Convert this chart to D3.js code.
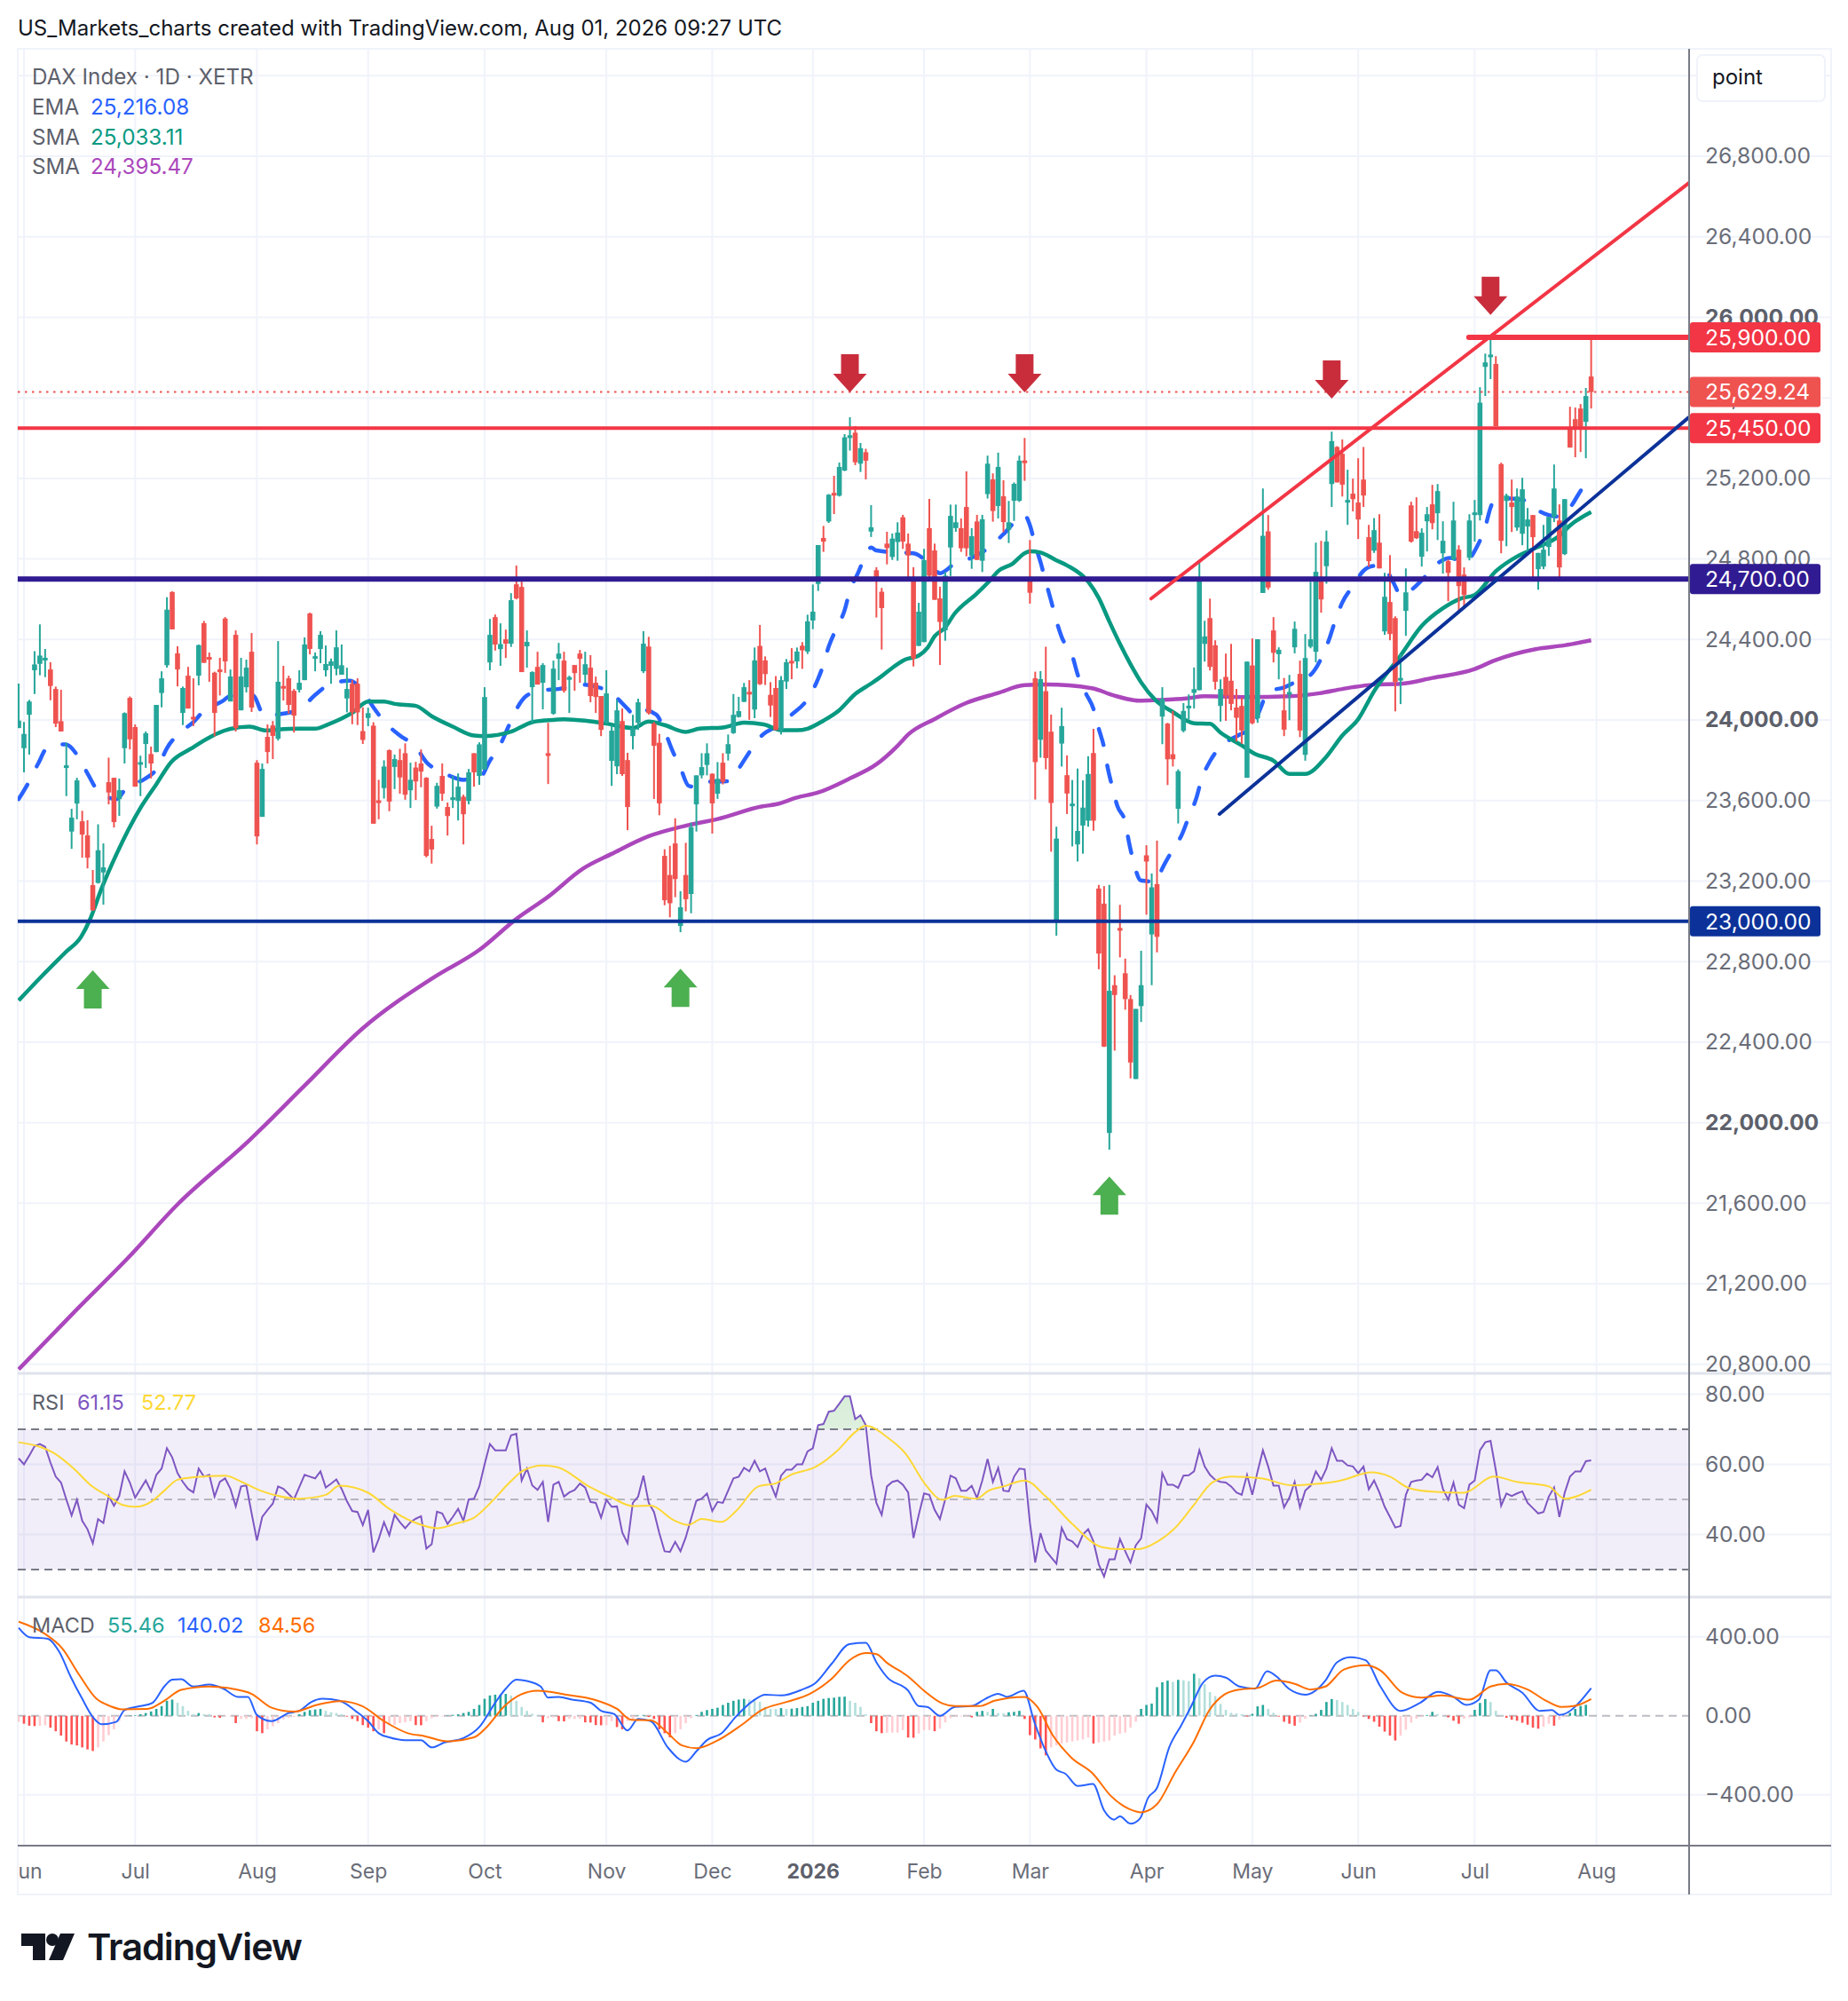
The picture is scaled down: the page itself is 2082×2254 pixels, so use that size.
<!DOCTYPE html>
<html>
<head>
<meta charset="utf-8">
<script src="https://cdn.jsdelivr.net/npm/d3@7"></script>
<style>
  html, body { margin: 0; background: #fff; }
  text { font-family: Inter, "Noto Sans", sans-serif; }
</style>
</head>
<body>
<div id="chart"></div>
<script>
// bar number of the first candle, one trading day before the Jun tick
const firstBar = -1;

// [open, high, low, close]
const ohlc2025 = [
[23960,24181,23960,23997],[23860,23990,23740,23931],[24026,24100,23828,24092],[24247,24342,24129,24276],[24279,24475,24222,24320],
[24303,24353,24213,24309],[24251,24287,24098,24169],[24154,24166,23965,23982],[23994,24150,23943,23943],[23769,23887,23622,23775],
[23446,23559,23360,23515],[23585,23713,23507,23700],[23497,23549,23316,23431],[23427,23502,23263,23316],[23180,23255,23052,23055],
[23191,23482,23188,23353],[23243,23387,23083,23268],[23691,23813,23581,23640],[23713,23713,23466,23493],[23607,23709,23524,23651],
[23860,24038,23784,24034],[24110,24117,23854,23904],[23965,23978,23669,23669],[23785,23823,23622,23791],[23881,23943,23762,23934],
[23831,23868,23710,23784],[23841,24075,23840,24075],[24134,24242,24063,24207],[24272,24610,24260,24548],[24636,24639,24450,24450],
[24331,24366,24167,24251],[24035,24166,23975,24159],[24220,24264,24057,24057],[24016,24207,23970,24010],[24220,24375,24172,24372],
[24481,24492,24284,24284],[24313,24335,24190,24307],[24235,24240,23919,24035],[24251,24309,24122,24245],[24504,24511,24234,24291],
[24092,24251,24092,24216],[24423,24445,23943,23960],[24048,24309,24048,24216],[24163,24300,24137,24260],[24339,24432,24040,24062],
[23788,23801,23382,23422],[23519,23784,23519,23757],[23916,23978,23784,23841],[23973,23995,23806,23921],[23907,24392,23898,24190],
[24169,24269,24097,24163],[24207,24220,24031,24075],[24145,24154,23938,24022],[24150,24247,24137,24185],[24198,24410,24198,24375],
[24529,24533,24326,24353],[24311,24335,24242,24317],[24353,24441,24282,24423],[24247,24370,24216,24278],[24269,24305,24180,24291],
[24254,24445,24222,24361],[24225,24375,24225,24272],[24107,24260,24038,24154],[24180,24198,23979,24038],[24180,24207,23975,24038],
[23945,24063,23881,23901],[24010,24061,23969,24034],[23972,23989,23485,23485],[23601,23703,23507,23595],[23662,23800,23610,23769],
[23850,23854,23547,23595],[23767,23828,23657,23806],[23801,23857,23634,23715],[23835,23884,23604,23629],[23651,23788,23563,23703],
[23764,23792,23603,23695],[23784,23854,23666,23744],[23713,23716,23318,23325],[23409,23475,23287,23357],[23570,23688,23560,23673],
[23722,23784,23598,23634],[23568,23590,23426,23523],[23610,23722,23563,23616],[23598,23735,23501,23669],[23619,23629,23382,23532],
[23598,23757,23581,23740],[23835,23835,23669,23740],[23722,23889,23678,23879],[23754,24163,23754,24114],[24286,24502,24247,24423],
[24511,24524,24345,24375],[24352,24480,24269,24377],[24401,24449,24308,24379],[24379,24630,24363,24595],[24674,24767,24599,24604],
[24661,24688,24238,24238],[24366,24445,24260,24388],[24163,24242,23986,24238],[24264,24339,24176,24176],[24185,24282,24053,24273],
[23835,23986,23682,23829],[24031,24295,24026,24255],[24304,24383,24198,24330],[24295,24339,24136,24145],[24207,24220,24035,24213],
[24273,24273,24145,24233],[24330,24348,24185,24304],[24225,24339,24185,24277],[24260,24322,24088,24119],[24185,24216,24035,24114],
[24119,24119,23920,23951],[23986,24247,23982,24132],[23797,23975,23673,23947],[23770,24101,23731,24048],[23995,24057,23722,23731],
[23801,23837,23453,23568],[23920,24026,23854,23960],[23986,24106,23951,24088],[24242,24441,24233,24379],[24365,24413,24027,24034],
[23982,23990,23608,23872],[23887,23931,23527,23586],[23325,23358,23080,23105],[23230,23375,23020,23090],[23387,23512,23120,23210],
[22977,23150,22946,23070],[23230,23390,23050,23110],[23136,23490,23040,23468],[23581,23725,23446,23725],[23725,23835,23710,23766],
[23777,23884,23725,23835],[23733,23735,23436,23586],[23634,23791,23608,23708],[23788,23835,23680,23693],[23833,23928,23799,23880],
[23935,24129,23931,24026],[24015,24115,24012,24044],[24090,24184,24090,24163],[24140,24198,24001,24134],[24052,24360,24009,24296],
[24368,24472,24174,24178],[24296,24316,24174,24228],[24125,24188,24015,24072],[24159,24218,23950,23950],[23949,24218,23928,24198],
[24191,24303,24154,24287],[24294,24357,24203,24288],[24291,24360,24257,24340],[24369,24387,24254,24346],[24340,24523,24328,24490]
];
const ohlc2026 = [
[24494,24673,24451,24538],[24676,24869,24641,24869],[24904,24964,24835,24886],[24986,25122,24979,25119],[25128,25213,25023,25122],
[25114,25279,25110,25257],[25239,25420,25236,25404],[25408,25504,25338,25414],[25427,25460,25266,25280],[25273,25376,25232,25350],
[25330,25347,25195,25288],[24936,25067,24909,24957],[24744,24759,24509,24698],[24637,24656,24350,24556],[24876,24935,24773,24854],
[24810,24926,24795,24901],[24884,24982,24791,24931],[25007,25019,24850,24886],[24876,24926,24706,24817],[24695,24759,24266,24306],
[24368,24582,24368,24538],[24387,24850,24387,24794],[24953,25098,24703,24717],[24842,24876,24597,24597],[24604,24662,24273,24487],
[24445,24735,24394,24717],[24857,25070,24715,25014],[24953,25070,24935,24982],[24953,25001,24835,24853],[25058,25235,24813,24853],
[24816,24953,24751,24913],[24986,25019,24795,24795],[24791,25019,24735,24997],[25122,25313,25100,25273],[25195,25225,24985,25038],
[25063,25328,25001,25257],[25111,25191,24933,24983],[24945,25088,24879,24982],[25089,25180,24989,25173],[25089,25313,25083,25288],
[25289,25401,25188,25283],[24691,24894,24578,24632],[24207,24240,23605,23791],[23902,24243,23813,24203],[24143,24364,23755,23811],
[23942,24027,23346,23588],[22998,23470,22929,23411],[23883,24061,23769,23970],[23726,23824,23533,23635],[23579,23702,23372,23585],
[23382,23759,23297,23449],[23476,23700,23336,23565],[23500,23820,23470,23732],[23836,23956,23450,23500],[23163,23181,22762,22840],
[23088,23175,22376,22378],[21949,23181,21866,22655],[22683,22732,22358,22634],[22967,23082,22821,22961],[22742,22815,22561,22614],
[22614,22634,22220,22299],[22217,22565,22217,22565],[22579,22854,22500,22683],[23328,23378,23033,23297],[22935,23238,22683,23169],
[23185,23401,22846,22923],[24017,24163,23880,24104],[23982,23986,23677,23805],[23830,24045,23769,23805],[23559,23755,23486,23746],
[23946,24084,23939,24045],[24065,24127,24002,24071],[24135,24261,24057,24153],[24148,24790,24148,24702],[24378,24493,24290,24415],
[24506,24603,24246,24264],[24371,24396,24151,24190],[24070,24202,23992,24154],[24214,24330,23996,24121],[24195,24378,24048,24080],
[24062,24154,23893,24011],[24070,24111,23882,23948],[23713,24290,23713,24290],[24271,24405,23979,23984],[24008,24401,23986,24401],
[24631,25150,24631,24915],[24937,25018,24647,24658],[24445,24511,24286,24334],[24327,24361,24202,24349],[24048,24209,23920,23952],
[24133,24224,23999,24139],[24361,24489,24331,24453],[24229,24295,23915,23948],[23827,24427,23798,24308],[24364,24687,24356,24401],
[24339,24881,24286,24736],[24692,24890,24533,24599],[24764,24941,24677,24886],[25172,25432,25058,25385],[25356,25360,25180,25180],
[25322,25393,25110,25169],[25087,25243,24969,25093],[25124,25199,25036,25097],[25080,25300,24899,24996],[25194,25356,25058,25115],
[24908,24969,24761,24789],[24841,25003,24830,24943],[24881,25022,24753,24753],[24440,24731,24423,24612],[24586,24819,24396,24427],
[24506,24515,24043,24189],[24203,24327,24079,24209],[24542,24753,24418,24634],[25066,25084,24881,24886],[24938,25106,24899,24903],
[24811,24952,24762,24930],[24987,25058,24837,25022],[25071,25168,24947,24978],[25027,25172,24894,25137],[24828,24987,24727,24890],
[24789,24797,24590,24731],[24797,25084,24793,24991],[24846,24868,24543,24665],[24722,24758,24555,24621],[24806,25022,24793,24991],
[25025,25093,24886,25031],[25018,25653,24991,25576],[25754,25820,25609,25776],[25809,25893,25693,25815],[25768,25807,25459,25459],
[25271,25278,24828,24890],[25088,25124,24863,25115],[25080,25194,24934,25058],[24956,25150,24940,25110],[24925,25203,24868,25146],
[24961,25053,24827,24996],[25018,25018,24692,24908],[24749,24830,24647,24830],[24762,24969,24749,24846],[24859,25009,24815,25009],
[25009,25269,24983,25150],[24991,25071,24696,24758],[24824,25097,24819,25097],[25447,25556,25353,25353],[25494,25552,25305,25447],
[25547,25569,25331,25452],[25481,25649,25300,25609],[25706,25888,25547,25629]
];

// moving averages: [bar, value] at the places they could be read
const emaPoints = [[-1,23607],[0.7,23681],[2.7,23784],[4.4,23862],[7.9,23879],[10.2,23820],[12.2,23725],[13.9,23651],[17.5,23607],[19.4,23666],[22.8,23707],[25.3,23766],[27,23860],[29.5,23938],[32,23990],[34,24046],[37.4,24092],[39,24119],[43.2,24122],[45.4,24023],[48.8,24031],[52,24051],[55,24125],[57.7,24176],[61.5,24195],[64,24144],[66,24063],[68,23994],[71,23923],[74,23867],[76,23791],[79,23742],[83,23703],[86,23710],[88,23798],[90,23879],[91.5,23967],[93,24053],[95,24122],[98,24148],[101,24154],[105,24176],[108,24166],[111,24132],[114,24056],[115,24031],[116,24056],[119.4,24027],[121,23946],[122.5,23846],[124,23762],[125.5,23674],[127,23666],[129,23693],[133,23696],[135,23759],[137,23840],[139,23913],[143,23982],[145,24027],[148,24104],[149.6,24181],[151,24276],[152,24365],[153.5,24457],[155,24545],[156,24644],[157.5,24728],[159,24820],[160,24857],[161,24842],[165,24832],[168,24828],[171,24776],[173,24729],[176,24781],[179,24806],[183,24872],[185,24923],[189,25016],[190,24967],[191,24869],[192,24784],[193,24687],[194,24592],[195,24493],[196,24412],[198,24320],[199,24227],[200.5,24136],[202,24055],[203,23957],[204,23864],[204.7,23761],[205.5,23673],[206.5,23574],[208,23492],[208.7,23394],[209.5,23303],[210.9,23204],[212,23200],[213.8,23195],[215,23263],[216.8,23348],[218.7,23431],[220,23519],[221.5,23618],[222.3,23696],[224,23795],[226,23868],[229.3,23923],[232,23967],[233.5,24055],[235,24143],[238,24162],[240,24187],[243,24224],[245,24305],[246.5,24400],[247.6,24489],[249,24584],[251,24665],[253,24741],[255,24765],[256.7,24761],[258.7,24680],[260,24621],[264,24694],[266.5,24768],[269.5,24805],[272,24783],[274.5,24864],[276,24959],[277,25055],[278,25103],[283.5,25091],[286,25040],[290,25010],[292,25055],[294,25138],[296,25216]];
const sma50Points = [[-1,22607],[3.3,22726],[7.8,22845],[10.8,22924],[12.4,23005],[14.7,23166],[17.5,23335],[22,23563],[25,23681],[27.8,23791],[31.5,23857],[35.4,23919],[39,23956],[42.6,23967],[45.7,23948],[48,23953],[52,23957],[55,23957],[57.4,23978],[62,24036],[65,24092],[68,24092],[70,24080],[74,24070],[77,24019],[81,23967],[85,23923],[87,23920],[92,23942],[96,23989],[99,23999],[102,24004],[106,23997],[110,23982],[115,23960],[118,23992],[121,23975],[124.9,23941],[127.6,23957],[132,23963],[136,23987],[139.7,23978],[143,23950],[146,23949],[148,23957],[151,23997],[154,24049],[157,24129],[160,24181],[162,24218],[164.5,24269],[166.5,24301],[169,24320],[170.7,24360],[172,24416],[174,24460],[175.7,24526],[180,24629],[182.5,24695],[184,24739],[186.7,24776],[189,24828],[190,24838],[192,24832],[195,24793],[197,24768],[201,24687],[203,24606],[205,24489],[207,24378],[209.5,24253],[211,24187],[213.7,24099],[217,24040],[221,23984],[224,23981],[226,23937],[230,23874],[232.5,23832],[236,23798],[239,23732],[242,23732],[245.8,23812],[249,23923],[252,24004],[255,24143],[260,24320],[264,24467],[268,24555],[271.3,24603],[274,24621],[278,24739],[282,24812],[285,24849],[290,24915],[292,24966],[296,25033]];
const sma200Points = [[-1,20775],[10,21073],[19.6,21327],[29,21594],[42.5,21911],[53,22184],[64,22469],[77.5,22723],[86,22858],[93,23012],[99,23122],[105.6,23262],[111,23335],[118,23423],[125.5,23478],[131,23508],[139.5,23571],[142,23581],[146,23615],[150,23640],[156,23710],[161,23780],[165,23872],[167,23928],[172,24005],[178,24085],[184,24134],[189,24173],[193,24176],[201.7,24158],[205.6,24124],[210.6,24096],[214,24099],[219.5,24107],[223,24118],[231,24114],[239,24118],[244.7,24133],[249,24154],[255,24176],[260,24180],[266,24209],[274,24253],[277.7,24295],[285.5,24352],[291,24371],[296,24396]];

// RSI, one value per bar
const rsiValues = [61.7,60,62.5,65.2,65.8,65,60.5,56.5,54.8,50,45.4,49.9,43.9,41.5,37.5,44.4,43.3,51,48.2,51,58,54.8,50.5,53,55.4,52.3,57,58.8,64.6,62,57.5,55,53,52,58.8,56.5,57,50.8,55,56,53,48,53.7,54,46,38.3,45,47,48.8,53.7,53,51.5,50,53.5,57,56.5,56,58,53.4,54.5,55.7,53,49.5,46.7,46.4,42.7,47,34.9,38.7,43.5,39.8,45.6,43.5,41.8,43.5,44.5,45.2,36,37.2,46.5,46,43,45,47.3,43.9,50,50.2,53.7,60,65.8,64,64,64,68.3,68.7,55.4,58.8,54,52.7,55,43.6,54.2,55,50.8,52,52.7,54.5,53.4,49.3,49,44.8,49.9,47.9,48,40.6,37.5,49,50.8,56.8,49,46.4,40.4,35.2,35,37.9,35.2,39.2,44.5,49.6,50.2,51.7,46.7,49.3,49,52.5,56,56.5,59,58,61,58,58.8,54.5,50.8,56.8,58.5,58.5,60,60,63.7,64.6,71.2,71.5,75,75.3,77.3,79.4,79.4,72.9,74,71.2,57,49,45.6,53.7,55,55.4,54.2,52,39,45.6,51.7,51.3,47,44.4,50,56.8,56,52.5,52.5,53.9,50.4,55.4,61.5,55,59,52.5,52.3,56.5,58.8,58.6,43.3,32,40.4,35.4,33.5,31.7,41.9,38.7,38,36.4,40,41.5,38,31.5,28,32.9,32.9,38.7,35.2,32,36.9,38.9,48.5,46.7,43.6,57.5,54.2,54.2,53.3,56.8,56.9,58,64,59.4,57,55.6,55,54.8,53.7,52,51.3,57,51.3,58,64,59.4,53.9,53.9,47.7,50.5,55,47.7,52.5,53.9,58,55.6,58.8,64.6,61,61,59.7,59.4,57.5,59.4,52.9,55.4,52,47.9,45,42,42.4,51.3,55,55.4,55.6,57.4,56.3,59.2,53,49.9,54.8,48.5,47.5,54.2,55.4,64,66.3,66.7,58.3,48.2,51.7,51,51.7,52.3,49,47.5,46,46.4,50.8,53.4,45,51.9,56.5,58,58,60.9,61.15];
const rsiMaPoints = [[-1,66.3],[3,65],[6,62.9],[9.4,58.8],[12.5,54.2],[16,50.8],[18.5,48.5],[21,47.9],[24.3,49.6],[26.5,52.5],[29,55.6],[32,56.3],[38,56.8],[41.4,54.8],[44.7,52.5],[48,51],[51.6,50.2],[57,51.3],[59.6,53.9],[65,51.9],[69,47.3],[73.5,43.6],[78,41.8],[82,43.3],[85,44.8],[88.5,49.6],[91.7,54.8],[94.4,58.3],[98,59.7],[100.8,59.2],[106.7,53.7],[111,50.5],[115,48.1],[118.4,48.2],[122.7,44.1],[125.4,42.7],[128,44.4],[131.8,43.6],[134.5,46.7],[138.7,53.7],[142,54.6],[145,57.1],[149.4,59.2],[153.7,64],[157,69.2],[159,71],[163,67.8],[166.6,62.9],[170,54.8],[173.5,49.9],[175.8,51],[179.9,50.2],[182.2,52.5],[185,53.7],[189,55.4],[193,50.8],[197.8,43.3],[203.6,36.4],[207,35.8],[210.5,35.8],[214,37.9],[217.5,42],[221,48.5],[224.4,54.8],[228,56.5],[233.7,56],[239.5,54],[244,54.4],[248.7,55.4],[254.5,57.7],[258,56.5],[261.5,53.3],[266,52.2],[271.9,51.9],[277.6,56.5],[282,55],[288,53.7],[291,50.2],[296,52.77]];

// MACD lines
const macdPoints = [[-1,445],[1,398],[4.5,390],[6.7,322],[8.8,199],[11,86],[13,-6],[14.7,-43],[17.4,-31],[19,29],[22,49],[24.3,66],[26.5,148],[28,183],[29.7,185],[32,148],[35,158],[37.7,137],[40.4,96],[42.3,96],[44,4],[46.8,-27],[50,14],[52,25],[54.3,70],[56.4,86],[59.6,76],[62.8,21],[65,-27],[67,-88],[69,-109],[72,-123],[75,-123],[77,-160],[79.4,-135],[83,-113],[86,-57],[89,66],[91,137],[93,183],[95,176],[97.6,148],[99,92],[101,96],[103.5,82],[107,66],[109,25],[111.5,8],[114,-74],[116,-16],[118.4,-27],[121.6,-160],[125,-232],[127,-180],[129,-123],[131.8,-88],[134.4,-6],[137.7,76],[140,107],[143,103],[147,133],[149.4,164],[152.6,265],[155.9,363],[159,369],[161,271],[163,196],[167,127],[169,49],[170.6,45],[173,0],[175.8,45],[179,49],[181.6,86],[184,111],[185.7,96],[188.8,127],[190.9,-37],[193,-180],[195,-273],[196.7,-293],[199,-355],[201.9,-345],[204,-478],[205.9,-525],[207,-509],[209,-546],[210.8,-519],[212.3,-416],[214,-365],[216.3,-160],[218.6,-47],[220.4,45],[222.7,168],[225,203],[227,193],[229.6,148],[232.5,137],[234.8,226],[237,189],[238.9,137],[242,107],[245.8,178],[248,271],[250.5,297],[253.4,281],[256.2,148],[260,25],[263.7,66],[267,121],[270,96],[272.4,55],[274.8,82],[277,230],[278,230],[280,168],[283,117],[286.3,25],[288.6,29],[290,4],[296,140]];
const signalPoints = [[-1,476],[4,414],[7.2,342],[10.4,209],[13.7,86],[16.3,49],[18.5,33],[23.3,35],[26.5,76],[29.7,131],[35,148],[39.3,137],[43,111],[46.8,41],[51,21],[55.3,55],[59.6,74],[63.9,49],[68,-27],[72.5,-88],[75.7,-103],[80,-129],[85,-109],[87.4,-57],[90.6,45],[93.8,107],[97,127],[102.4,107],[107.7,82],[112,35],[114.7,-20],[118.4,-23],[121.6,-88],[124.3,-150],[127,-164],[130.7,-129],[135.5,-47],[139.3,29],[144,70],[148.4,111],[152.6,189],[155.9,281],[159,318],[161,312],[163,268],[167,199],[170,127],[173.5,62],[175.8,49],[180.5,49],[183.3,76],[189,96],[191.4,45],[194.3,-98],[197.8,-211],[201.9,-293],[205.3,-406],[208.8,-472],[211,-488],[214,-447],[217.5,-283],[221,-129],[223.8,25],[226.7,107],[229.6,133],[233,141],[236.6,178],[240,162],[243,133],[245.8,148],[249.3,234],[253.4,256],[256.2,230],[260.3,117],[263.8,92],[267.8,103],[273,82],[277,148],[280,162],[284,133],[287.5,76],[290.4,45],[292.7,49],[296,85]];
// histogram, one value per bar
const histValues = [-30,-40,-50,-52,-50,-48,-60,-78,-100,-130,-145,-150,-160,-170,-178,-160,-130,-98,-68,-27,-3,2,3,8,14,22,35,49,76,82,66,49,25,8,14,8,8,-8,-10,-4,-4,-37,-16,-16,-12,-78,-88,-68,-53,-37,-18,-10,-6,8,20,29,32,35,25,18,14,8,-4,-16,-27,-47,-60,-78,-70,-88,-47,-47,-37,-33,-27,-47,-48,-27,-12,-6,-3,2,5,8,14,20,35,55,86,103,107,108,111,103,76,45,25,10,4,-33,-12,-8,-27,-28,-16,-16,-15,-33,-34,-47,-48,-47,-27,-57,-68,-27,-16,2,4,-6,-16,-68,-88,-109,-88,-68,-37,-12,4,20,29,35,41,55,66,76,82,86,82,76,70,45,35,34,39,35,36,39,45,49,66,76,86,90,92,96,97,76,66,45,8,-37,-78,-88,-85,-85,-85,-72,-110,-111,-90,-72,-72,-78,-65,-33,-12,-6,-4,-4,-8,20,25,20,35,14,12,18,20,25,-16,-98,-120,-165,-200,-160,-150,-140,-135,-130,-125,-120,-110,-140,-135,-130,-125,-100,-90,-85,-60,-30,35,55,62,145,170,178,172,182,180,175,213,190,160,120,100,60,30,15,12,8,-4,10,48,55,35,15,-4,-30,-40,-50,-35,-15,2,10,30,70,85,80,70,55,35,20,-4,-16,-30,-55,-80,-100,-125,-100,-70,-35,-15,-6,4,20,8,2,-8,-25,-40,-15,-8,30,65,85,70,25,4,-10,-20,-25,-35,-45,-60,-65,-55,-40,-50,-20,-5,15,35,50,55.46];

// axis ticks
const priceTicks = [26800,26400,26000,25600,25200,24800,24400,24000,23600,23200,22800,22400,22000,21600,21200,20800];
const priceGridExtra = [27200];
const boldPrices = [26000,24000,22000];
const rsiTicks = [80,60,40];
const macdTicks = [400,0,-400];
const timeBars = [0,21,44,65,87,110,130,149,170,190,212,232,252,274,297];
const timeLabels = ["Jun","Jul","Aug","Sep","Oct","Nov","Dec","2026","Feb","Mar","Apr","May","Jun","Jul","Aug"];

// drawings on the price pane
const levelLines = [
  { price: 25450, from: null, color: "#f23645", width: 4 },
  { price: 25900, from: 272.9, color: "#f23645", width: 6 },
  { price: 24700, from: null, color: "#311b92", width: 6 },
  { price: 23000, from: null, color: "#0c3299", width: 4 }
];
const trendLines = [
  { from: [212.9, 24603], to: [314.5, 26668], color: "#f23645" },
  { from: [225.8, 23533], to: [314.4, 25502], color: "#0c3299" }
];
const downArrows = [[156, 25627], [189, 25627], [247, 25596], [277, 26012]];
const upArrows = [[13, 22757], [124, 22765], [205, 21733]];
const lastPrice = 25629.24;
const priceTags = [
  { price: 25900, text: "25,900.00", color: "#f23645" },
  { price: 25629.24, text: "25,629.24", color: "#ef5350" },
  { price: 25450, text: "25,450.00", color: "#f23645" },
  { price: 24700, text: "24,700.00", color: "#311b92" },
  { price: 23000, text: "23,000.00", color: "#0c3299" }
];

const chartWidth = 2082, chartHeight = 2254;
const plotLeft = 20, axisX = 1903, plotRight = 2063, plotTop = 55;
const mainBottom = 1547, rsiBottom = 1799, macdBottom = 2079, frameBottom = 2134;

const gridColor = "#f0f3fa", textColor = "#6a6d78", upColor = "#26a69a", downColor = "#ef5350";

const candles = ohlc2025.concat(ohlc2026).map((d, k) => ({ bar: firstBar + k, open: d[0], high: d[1], low: d[2], close: d[3] }));

const x = d3.scaleLinear().domain([0, 297]).range([27, 1798.6]);
const yPrice = d3.scaleLinear().domain([20800, 26800]).range([1536.8, 176]);
const yRsi = d3.scaleLinear().domain([40, 80]).range([1728.5, 1570.5]);
const yMacd = d3.scaleLinear().domain([-400, 400]).range([2021.8, 1843.7]);

const svg = d3.select("#chart").append("svg")
  .attr("width", chartWidth)
  .attr("height", chartHeight)
  .attr("viewBox", `0 0 ${chartWidth} ${chartHeight}`)
  .style("display", "block");

const defs = svg.append("defs");
function addClip(id, x0, y0, x1, y1) {
  defs.append("clipPath").attr("id", id).append("rect")
    .attr("x", x0).attr("y", y0).attr("width", x1 - x0).attr("height", y1 - y0);
}
addClip("clip-main", plotLeft, plotTop, axisX, mainBottom);
addClip("clip-rsi", plotLeft, mainBottom, axisX, rsiBottom);
addClip("clip-macd", plotLeft, rsiBottom, axisX, macdBottom);
addClip("clip-over", plotLeft, mainBottom, axisX, yRsi(70));
addClip("clip-time", plotLeft, macdBottom, axisX, frameBottom);

const obGradient = defs.append("linearGradient").attr("id", "ob-fill")
  .attr("x1", 0).attr("x2", 0).attr("y1", 0).attr("y2", 1);
obGradient.append("stop").attr("offset", "0%").attr("stop-color", "#4caf50").attr("stop-opacity", 0.22);
obGradient.append("stop").attr("offset", "100%").attr("stop-color", "#4caf50").attr("stop-opacity", 0.02);

// Title
svg.append("text").attr("x", 20).attr("y", 40).attr("fill", "#131722")
  .style("font-size", "24px")
  .text("US_Markets_charts created with TradingView.com, Aug 01, 2026 09:27 UTC");

// Grid
const grid = svg.append("g").attr("stroke", gridColor).attr("stroke-width", 2);
function hLines(values, scale) {
  grid.append("g").selectAll("line").data(values).join("line")
    .attr("x1", plotLeft).attr("x2", plotRight)
    .attr("y1", d => scale(d)).attr("y2", d => scale(d));
}
hLines(priceTicks.concat(priceGridExtra), yPrice);
hLines(rsiTicks, yRsi);
hLines(macdTicks.filter(d => d !== 0), yMacd);
grid.append("g").selectAll("line").data(timeBars).join("line")
  .attr("x1", d => x(d)).attr("x2", d => x(d))
  .attr("y1", plotTop).attr("y2", macdBottom);
// frame
svg.append("rect").attr("x", plotLeft).attr("y", plotTop)
  .attr("width", plotRight - plotLeft).attr("height", frameBottom - plotTop)
  .attr("fill", "none").attr("stroke", gridColor).attr("stroke-width", 2);

// Moving averages
const lineFrom = (scale) => d3.line().x(d => x(d[0])).y(d => scale(d[1])).curve(d3.curveMonotoneX);
const main = svg.append("g").attr("clip-path", "url(#clip-main)");
main.append("path").datum(sma200Points).attr("fill", "none")
  .attr("stroke", "#ab47bc").attr("stroke-width", 4.5).attr("d", lineFrom(yPrice));
main.append("path").datum(emaPoints).attr("fill", "none")
  .attr("stroke", "#2962ff").attr("stroke-width", 4.5).attr("stroke-linecap", "round")
  .attr("stroke-dasharray", "19 23").attr("d", lineFrom(yPrice));
main.append("path").datum(sma50Points).attr("fill", "none")
  .attr("stroke", "#089981").attr("stroke-width", 4.5).attr("d", lineFrom(yPrice));

// Candles
const candleColor = d => d.close >= d.open ? upColor : downColor;
const candleG = main.append("g");
candleG.selectAll("line").data(candles).join("line")
  .attr("x1", d => x(d.bar)).attr("x2", d => x(d.bar))
  .attr("y1", d => yPrice(d.high)).attr("y2", d => yPrice(d.low))
  .attr("stroke", candleColor).attr("stroke-width", 2);
candleG.selectAll("rect").data(candles).join("rect")
  .attr("x", d => x(d.bar) - 2.8).attr("width", 5.6)
  .attr("y", d => yPrice(Math.max(d.open, d.close)))
  .attr("height", d => Math.max(3, Math.abs(yPrice(d.open) - yPrice(d.close))))
  .attr("fill", candleColor);

// Drawings
main.append("line")
  .attr("x1", plotLeft).attr("x2", axisX)
  .attr("y1", yPrice(lastPrice)).attr("y2", yPrice(lastPrice))
  .attr("stroke", "#ef5350").attr("stroke-width", 2).attr("stroke-dasharray", "2.5 5.5");
main.selectAll(".level").data(levelLines).join("line").attr("class", "level")
  .attr("x1", d => d.from === null ? plotLeft : x(d.from)).attr("x2", axisX)
  .attr("y1", d => yPrice(d.price)).attr("y2", d => yPrice(d.price))
  .attr("stroke", d => d.color).attr("stroke-width", d => d.width)
  .attr("stroke-linecap", "round");
main.selectAll(".trend").data(trendLines).join("line").attr("class", "trend")
  .attr("x1", d => x(d.from[0])).attr("y1", d => yPrice(d.from[1]))
  .attr("x2", d => x(d.to[0])).attr("y2", d => yPrice(d.to[1]))
  .attr("stroke", d => d.color).attr("stroke-width", 4).attr("stroke-linecap", "round");

// Arrow markers, tip at the data point
const arrowPath = dir => `M0,0L${-19},${-dir * 21}L${-10},${-dir * 21}L${-10},${-dir * 43}L10,${-dir * 43}L10,${-dir * 21}L19,${-dir * 21}Z`;
main.selectAll(".arrow-down").data(downArrows).join("path").attr("class", "arrow-down")
  .attr("transform", d => `translate(${x(d[0])},${yPrice(d[1])})`)
  .attr("d", arrowPath(1)).attr("fill", "#c92d3c");
main.selectAll(".arrow-up").data(upArrows).join("path").attr("class", "arrow-up")
  .attr("transform", d => `translate(${x(d[0])},${yPrice(d[1])})`)
  .attr("d", arrowPath(-1)).attr("fill", "#4caf50");

// RSI pane
const rsiPoints = rsiValues.map((v, k) => [firstBar + k, v]);
const rsiG = svg.append("g").attr("clip-path", "url(#clip-rsi)");
rsiG.append("rect").attr("x", plotLeft).attr("width", axisX - plotLeft)
  .attr("y", yRsi(70)).attr("height", yRsi(30) - yRsi(70))
  .attr("fill", "#7e57c2").attr("fill-opacity", 0.1);
rsiG.append("path").datum(rsiPoints).attr("clip-path", "url(#clip-over)")
  .attr("fill", "url(#ob-fill)")
  .attr("d", d3.area().x(d => x(d[0])).y0(yRsi(70)).y1(d => yRsi(d[1])));
rsiG.selectAll(".band").data([70, 50, 30]).join("line").attr("class", "band")
  .attr("x1", plotLeft).attr("x2", axisX)
  .attr("y1", d => yRsi(d)).attr("y2", d => yRsi(d))
  .attr("stroke", "#787b86").attr("stroke-width", 2)
  .attr("stroke-opacity", d => d === 50 ? 0.5 : 1)
  .attr("stroke-dasharray", "9 6");
rsiG.append("path").datum(rsiPoints).attr("fill", "none")
  .attr("stroke", "#7e57c2").attr("stroke-width", 2)
  .attr("d", d3.line().x(d => x(d[0])).y(d => yRsi(d[1])));
rsiG.append("path").datum(rsiMaPoints).attr("fill", "none")
  .attr("stroke", "#fdd835").attr("stroke-width", 2).attr("d", lineFrom(yRsi));

// MACD pane
const macdG = svg.append("g").attr("clip-path", "url(#clip-macd)");
macdG.append("line").attr("x1", plotLeft).attr("x2", axisX)
  .attr("y1", yMacd(0)).attr("y2", yMacd(0))
  .attr("stroke", "#787b86").attr("stroke-opacity", 0.5).attr("stroke-width", 2)
  .attr("stroke-dasharray", "9 6");
const histColor = (v, k) => {
  const prev = k > 0 ? histValues[k - 1] : v;
  if (v >= 0) return v > prev ? "#26a69a" : "#b2dfdb";
  return v < prev ? "#ff5252" : "#ffcdd2";
};
macdG.selectAll("rect").data(histValues).join("rect")
  .attr("x", (v, k) => x(firstBar + k) - 1.3).attr("width", 2.6)
  .attr("y", v => Math.min(yMacd(v), yMacd(0)))
  .attr("height", v => Math.abs(yMacd(v) - yMacd(0)))
  .attr("fill", histColor);
macdG.append("path").datum(macdPoints).attr("fill", "none")
  .attr("stroke", "#2962ff").attr("stroke-width", 2).attr("d", lineFrom(yMacd));
macdG.append("path").datum(signalPoints).attr("fill", "none")
  .attr("stroke", "#ff6d00").attr("stroke-width", 2).attr("d", lineFrom(yMacd));

// Pane separators and axis lines
svg.append("g").attr("stroke", "#e0e3eb").attr("stroke-width", 3)
  .selectAll("line").data([mainBottom, rsiBottom]).join("line")
  .attr("x1", plotLeft).attr("x2", plotRight).attr("y1", d => d).attr("y2", d => d);
svg.append("line").attr("x1", plotLeft).attr("x2", plotRight)
  .attr("y1", macdBottom).attr("y2", macdBottom)
  .attr("stroke", "#787b86").attr("stroke-width", 2);
svg.append("line").attr("x1", axisX).attr("x2", axisX)
  .attr("y1", plotTop).attr("y2", frameBottom)
  .attr("stroke", "#787b86").attr("stroke-width", 2);

// Axes
function styleAxis(g, size) {
  g.select(".domain").remove();
  g.selectAll("text").attr("fill", textColor).style("font-size", size);
}
svg.append("g").attr("transform", `translate(${axisX},0)`)
  .call(d3.axisRight(yPrice).tickValues(priceTicks).tickSize(0).tickPadding(18).tickFormat(d3.format(",.2f")))
  .call(styleAxis, "24.6px")
  .selectAll("text").filter(d => boldPrices.includes(d))
  .attr("fill", "#5d606b").style("font-weight", 700);
svg.append("g").attr("transform", `translate(${axisX},0)`)
  .call(d3.axisRight(yRsi).tickValues(rsiTicks).tickSize(0).tickPadding(18).tickFormat(d3.format(".2f")))
  .call(styleAxis, "24.6px");
svg.append("g").attr("transform", `translate(${axisX},0)`)
  .call(d3.axisRight(yMacd).tickValues(macdTicks).tickSize(0).tickPadding(18).tickFormat(d3.format(".2f")))
  .call(styleAxis, "24.6px");
const timeG = svg.append("g").attr("clip-path", "url(#clip-time)");
timeG.append("g").attr("transform", `translate(0,${macdBottom})`)
  .call(d3.axisBottom(x).tickValues(timeBars).tickSize(0).tickPadding(21).tickFormat((d, k) => timeLabels[k]))
  .call(styleAxis, "23px")
  .selectAll("text").filter((d, k) => timeLabels[k] === "2026")
  .attr("fill", "#5d606b").style("font-weight", 700);

// Price tags
const tags = svg.append("g").selectAll("g").data(priceTags).join("g")
  .attr("transform", d => `translate(${axisX + 1},${yPrice(d.price)})`);
tags.append("rect").attr("x", 0).attr("y", -17).attr("width", 147).attr("height", 34).attr("rx", 3)
  .attr("fill", d => d.color);
tags.append("text").attr("x", 17).attr("dy", "0.36em").attr("fill", "#fff")
  .style("font-size", "24.6px").text(d => d.text);

// "point" box
svg.append("rect").attr("x", 1912).attr("y", 62).attr("width", 144).attr("height", 52).attr("rx", 6)
  .attr("fill", "#fff").attr("stroke", "#f0f3fa").attr("stroke-width", 2);
svg.append("text").attr("x", 1929).attr("y", 86).attr("dy", "0.36em").attr("fill", "#131722")
  .style("font-size", "24px").text("point");

// Legends
function legendRow(yPos, size, parts) {
  const row = svg.append("g");
  parts.forEach(p => {
    row.append("text").attr("x", p[0]).attr("y", yPos).attr("dy", "0.36em")
      .attr("fill", p[2]).style("font-size", size).text(p[1]);
  });
}
const legendGrey = "#5d606b";
legendRow(86, "24.2px", [[36, "DAX Index · 1D · XETR", legendGrey]]);
legendRow(120, "24.2px", [[36, "EMA", legendGrey], [102, "25,216.08", "#2962ff"]]);
legendRow(154, "24.2px", [[36, "SMA", legendGrey], [102, "25,033.11", "#089981"]]);
legendRow(187.5, "24.2px", [[36, "SMA", legendGrey], [102, "24,395.47", "#ab47bc"]]);
legendRow(1580, "23.5px", [[36, "RSI", legendGrey], [87, "61.15", "#7e57c2"], [159, "52.77", "#fdd835"]]);
legendRow(1831, "23.5px", [[36, "MACD", legendGrey], [121, "55.46", "#26a69a"], [200, "140.02", "#2962ff"], [291, "84.56", "#ff6d00"]]);

// TradingView logo and wordmark
const logo = svg.append("g").attr("transform", "translate(24,2178)").attr("fill", "#131722");
logo.append("path").attr("d", "M0,0H27V30H13V14H0Z");
logo.append("circle").attr("cx", 35).attr("cy", 7).attr("r", 7);
logo.append("path").attr("d", "M44,0H60L47,30H31Z");
svg.append("text").attr("x", 98).attr("y", 2208).attr("fill", "#131722")
  .style("font-size", "41.5px").style("font-weight", 600).style("letter-spacing", "-1px")
  .text("TradingView");
</script>
</body>
</html>
